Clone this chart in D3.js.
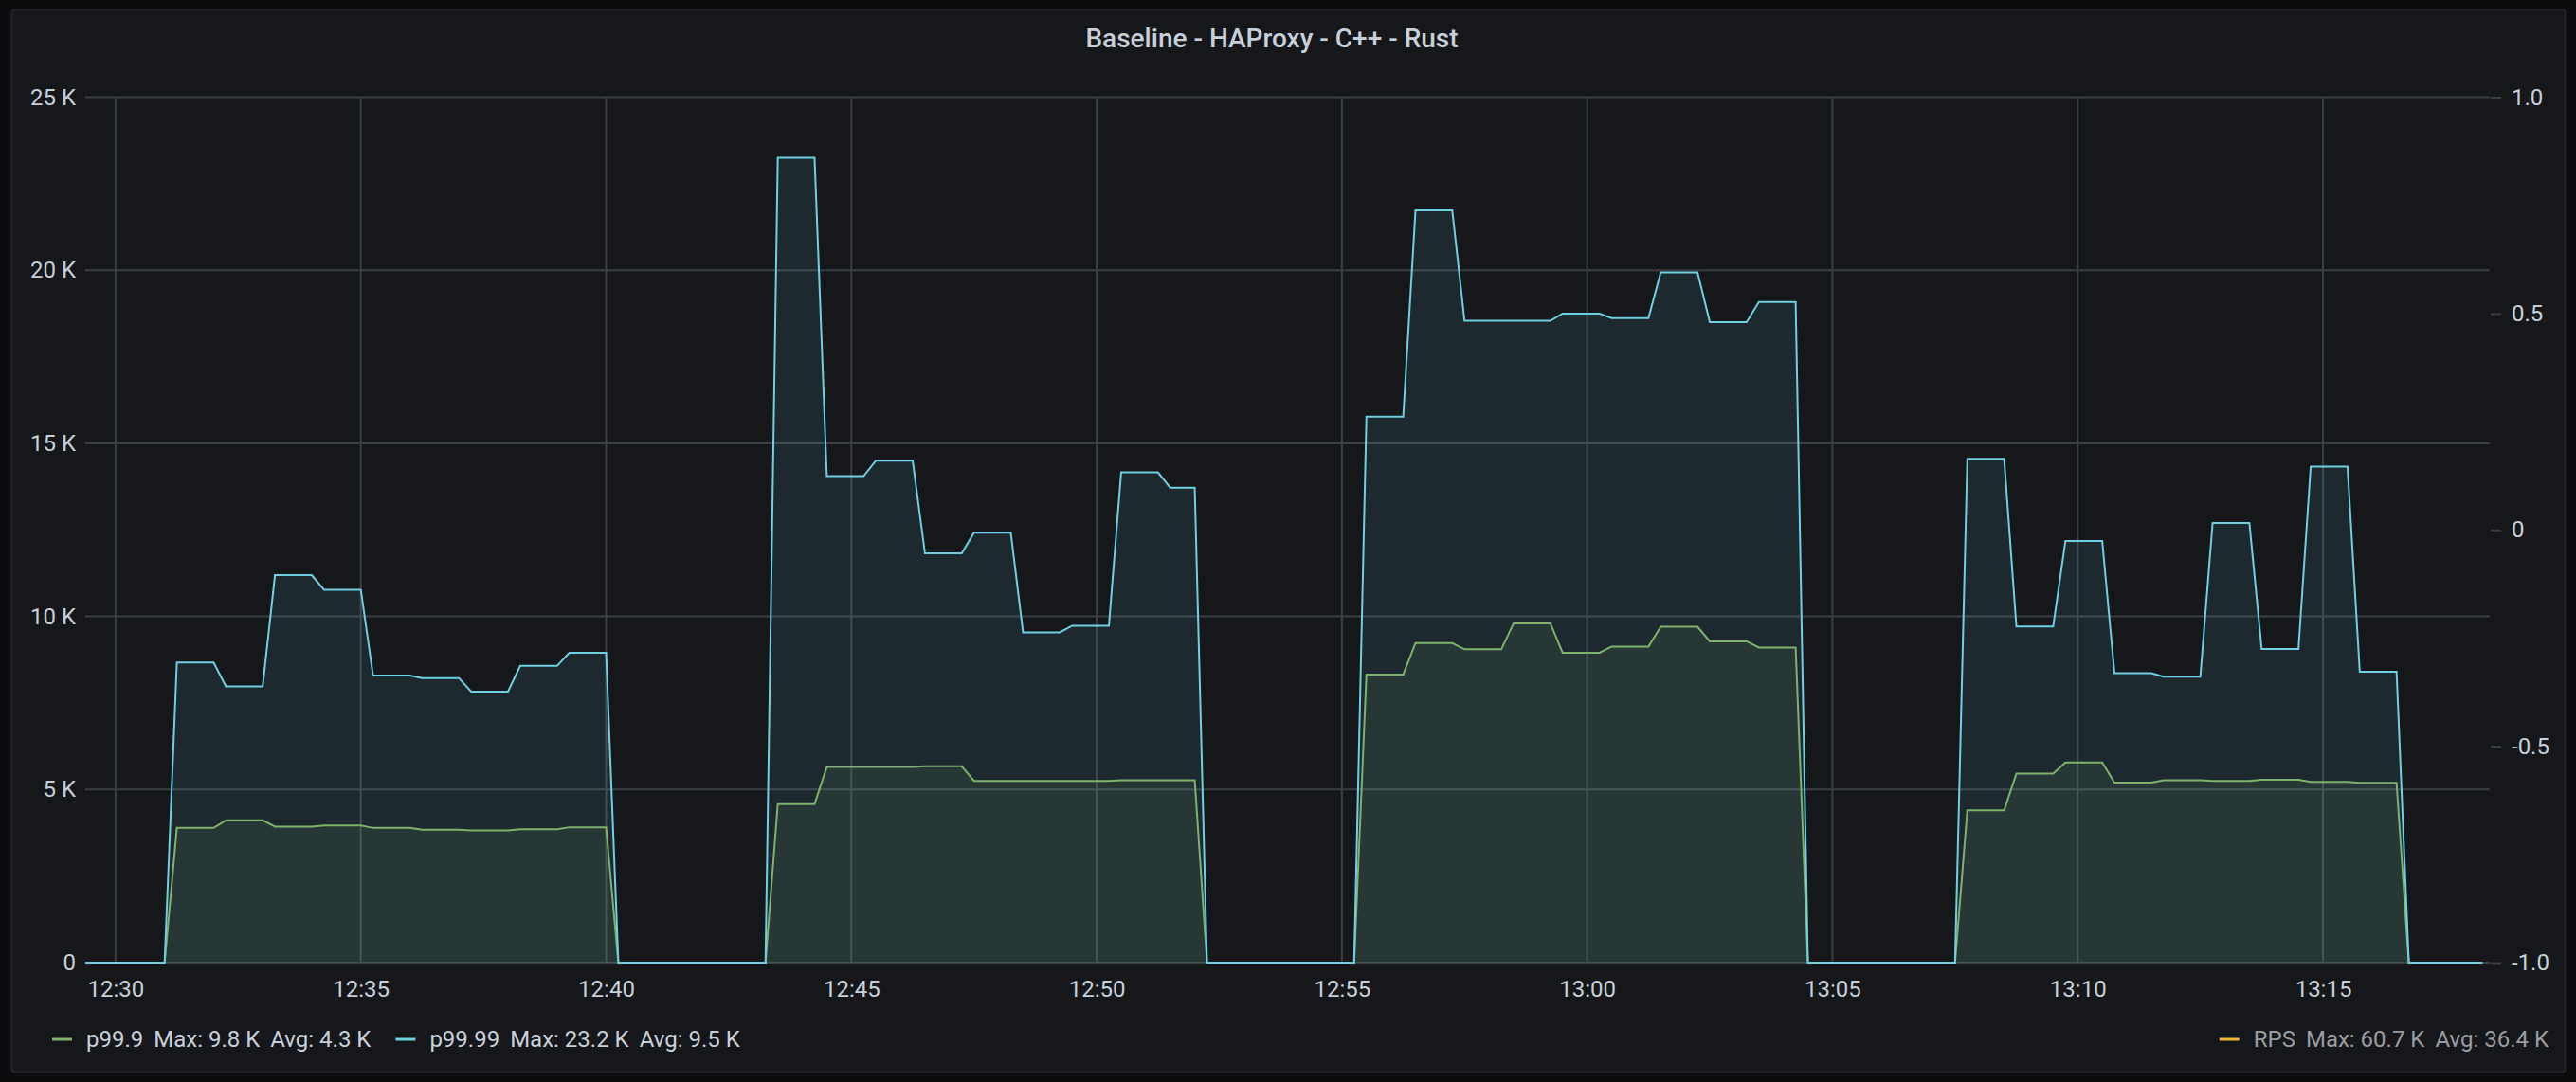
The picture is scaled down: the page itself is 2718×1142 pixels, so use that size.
<!DOCTYPE html>
<html>
<head>
<meta charset="utf-8">
<script src="https://cdn.jsdelivr.net/npm/d3@7"></script>
<style>
  html, body { margin: 0; padding: 0; background: #0b0c0e; }
  svg { display: block; }
  text { font-family: Roboto, "Noto Sans", sans-serif; }
</style>
</head>
<body>
<svg id="chart" width="2718" height="1142"></svg>
<script>
// ---------------- DATA ----------------
const chartTitle = "Baseline - HAProxy - C++ - Rust";
const timeDomain = ["12:29:23", "13:18:24"];
const seriesSpan = ["12:29:23", "13:18:15"];
// each run: first sample time, and the time at which the series is back to 0
const runStart = ["12:31:15", "12:43:30", "12:55:30", "13:07:45"];
const runEnd   = ["12:40:15", "12:52:15", "13:04:30", "13:16:45"];
// per-minute samples (one value per minute of each run)
const p999Run1 = [3890, 4110, 3930, 3960, 3890, 3840, 3820, 3850, 3910];
const p999Run2 = [4580, 5650, 5650, 5670, 5250, 5250, 5250, 5270, 5270];
const p999Run3 = [8320, 9230, 9050, 9800, 8950, 9130, 9700, 9280, 9100];
const p999Run4 = [4400, 5460, 5780, 5200, 5270, 5250, 5280, 5220, 5190];
const p9999Run1 = [8670, 7980, 11190, 10770, 8290, 8220, 7830, 8570, 8950];
const p9999Run2 = [23250, 14050, 14500, 11820, 12420, 9540, 9730, 14160, 13720];
const p9999Run3 = [15770, 21730, 18540, 18540, 18750, 18620, 19940, 18500, 19080];
const p9999Run4 = [14550, 9710, 12180, 8360, 8260, 12700, 9060, 14330, 8400];

const seriesNames  = ["p99.9", "p99.99", "RPS"];
const seriesMax    = ["Max: 9.8 K", "Max: 23.2 K", "Max: 60.7 K"];
const seriesAvg    = ["Avg: 4.3 K", "Avg: 9.5 K", "Avg: 36.4 K"];
const seriesColors = ["#7eb26d", "#6ed0e0", "#eab839"];

const xTickLabels = ["12:30","12:35","12:40","12:45","12:50","12:55","13:00","13:05","13:10","13:15"];
const yLeftTicks  = [0, 5000, 10000, 15000, 20000, 25000];
const yLeftLabels = ["0", "5 K", "10 K", "15 K", "20 K", "25 K"];
const yRightTicks  = [-1, -0.5, 0, 0.5, 1];
const yRightLabels = ["-1.0", "-0.5", "0", "0.5", "1.0"];

// ---------------- LAYOUT ----------------
const W = 2718, H = 1142;
const plot = { left: 90, right: 2627, top: 102.5, bottom: 1016 };
const textColor = "#c7d0d9";
const gridColor = "#3b3e43";

const parseT = d3.timeParse("%H:%M:%S");
const parseHM = d3.timeParse("%H:%M");
const addS = (d, s) => new Date(d.getTime() + s * 1000);

const x = d3.scaleTime().domain(timeDomain.map(parseT)).range([plot.left, plot.right]);
const y = d3.scaleLinear().domain([0, 25000]).range([plot.bottom, plot.top]);
const yR = d3.scaleLinear().domain([-1, 1]).range([plot.bottom, plot.top]);

// build series vertices from the per-minute samples (each held 45s, 15s transitions)
function buildSeries(runs) {
  const pts = [{ t: parseT(seriesSpan[0]), v: 0 }];
  runs.forEach((vals, r) => {
    const s = parseT(runStart[r]);
    const e = parseT(runEnd[r]);
    pts.push({ t: addS(s, -15), v: 0 });
    vals.forEach((v, i) => {
      const t0 = addS(s, 60 * i);
      let t1 = addS(t0, 45);
      if (i === vals.length - 1 && t1 > addS(e, -15)) t1 = addS(e, -15);
      pts.push({ t: t0, v: v });
      pts.push({ t: t1, v: v });
    });
    pts.push({ t: e, v: 0 });
  });
  pts.push({ t: parseT(seriesSpan[1]), v: 0 });
  return pts;
}
const sGreen = buildSeries([p999Run1, p999Run2, p999Run3, p999Run4]);
const sCyan  = buildSeries([p9999Run1, p9999Run2, p9999Run3, p9999Run4]);

const svg = d3.select("#chart");

// background panel
svg.append("rect").attr("x", 0).attr("y", 0).attr("width", W).attr("height", H).attr("fill", "#0b0c0e");
svg.append("rect").attr("x", 12.5).attr("y", 10.5).attr("width", 2694).attr("height", 1121)
  .attr("rx", 3).attr("fill", "#16171b").attr("stroke", "#222428").attr("stroke-width", 2);

// title
svg.append("text").attr("x", 1342).attr("y", 50).attr("text-anchor", "middle")
  .attr("font-size", 28).attr("font-weight", 500).attr("fill", textColor).text(chartTitle);

// grid
const xTicks = xTickLabels.map(parseHM).map(d => {
  const base = parseT(timeDomain[0]);
  const r = new Date(base); r.setHours(d.getHours(), d.getMinutes(), 0, 0); return r;
});
svg.append("g").selectAll("line").data(yLeftTicks).join("line")
  .attr("x1", plot.left).attr("x2", plot.right)
  .attr("y1", d => y(d)).attr("y2", d => y(d))
  .attr("stroke", gridColor).attr("stroke-width", 2);
svg.append("g").selectAll("line").data(xTicks).join("line")
  .attr("x1", d => x(d)).attr("x2", d => x(d))
  .attr("y1", plot.top).attr("y2", plot.bottom)
  .attr("stroke", gridColor).attr("stroke-width", 2);

// axes
const axL = svg.append("g").attr("transform", `translate(${plot.left},0)`)
  .call(d3.axisLeft(y).tickValues(yLeftTicks).tickFormat((d, i) => yLeftLabels[i]).tickSize(0).tickPadding(10));
const axB = svg.append("g").attr("transform", `translate(0,${plot.bottom})`)
  .call(d3.axisBottom(x).tickValues(xTicks).tickFormat((d, i) => xTickLabels[i]).tickSize(0).tickPadding(19));
const axR = svg.append("g").attr("transform", `translate(${plot.right + 1},0)`)
  .call(d3.axisRight(yR).tickValues(yRightTicks).tickFormat((d, i) => yRightLabels[i]).tickSize(11).tickPadding(11));
[axL, axB, axR].forEach(a => {
  a.select(".domain").remove();
  a.selectAll("text").attr("font-size", 24).attr("fill", textColor).attr("font-family", "Roboto, sans-serif");
  a.selectAll("line").attr("stroke", gridColor).attr("stroke-width", 2);
});

// series
const area = d3.area().x(d => x(d.t)).y0(y(0)).y1(d => y(d.v));
const line = d3.line().x(d => x(d.t)).y(d => y(d.v));
svg.append("path").datum(sGreen).attr("d", area).attr("fill", seriesColors[0]).attr("fill-opacity", 0.1);
svg.append("path").datum(sCyan).attr("d", area).attr("fill", seriesColors[1]).attr("fill-opacity", 0.1);
svg.append("path").datum(sGreen).attr("d", line).attr("fill", "none").attr("stroke", seriesColors[0]).attr("stroke-width", 2);
svg.append("path").datum(sCyan).attr("d", line).attr("fill", "none").attr("stroke", seriesColors[1]).attr("stroke-width", 2);

// legend
const legY = 1105, gap = 11;
function legendItem(g, x0, i, col) {
  g.append("line").attr("x1", x0).attr("x2", x0 + 21).attr("y1", legY - 8).attr("y2", legY - 8)
    .attr("stroke", seriesColors[i]).attr("stroke-width", 3);
  let cx = x0 + 36;
  [seriesNames[i], seriesMax[i], seriesAvg[i]].forEach(s => {
    const t = g.append("text").attr("x", cx).attr("y", legY).attr("font-size", 24).attr("fill", col).text(s);
    cx += t.node().getComputedTextLength() + gap;
  });
  return cx - gap;
}
const legL = svg.append("g");
let endX = legendItem(legL, 55, 0, textColor);
legendItem(legL, endX + 26, 1, textColor);
const legR = svg.append("g");
const endR = legendItem(legR, 0, 2, "#9a9ca2");
legR.attr("transform", `translate(${2689 - endR + 2344 - 2344},0)`);
</script>
</body>
</html>
